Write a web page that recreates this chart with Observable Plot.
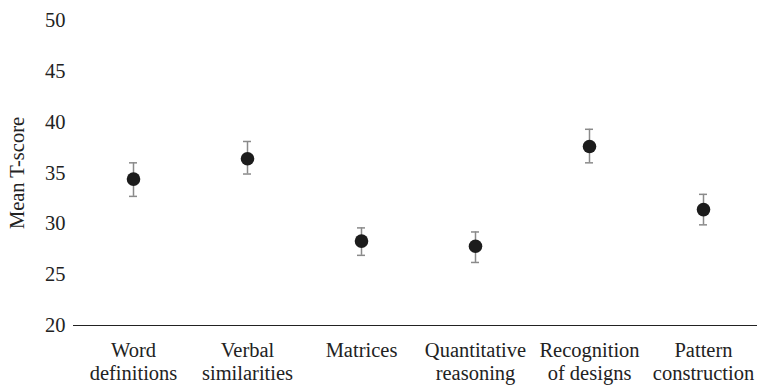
<!DOCTYPE html>
<html>
<head>
<meta charset="utf-8">
<script src="https://cdn.jsdelivr.net/npm/d3@7"></script>
<script src="https://cdn.jsdelivr.net/npm/@observablehq/plot@0.6"></script>
<style>
  html, body { margin: 0; padding: 0; background: #fff; }
  #chart svg { display: block; }
  #chart svg text { font-family: 'Liberation Serif', 'Times New Roman', serif; }
</style>
</head>
<body>
<div id="chart"></div>
<script>
const categories = ["Word\ndefinitions", "Verbal\nsimilarities", "Matrices", "Quantitative\nreasoning", "Recognition\nof designs", "Pattern\nconstruction"];
const means = [34.4, 36.4, 28.3, 27.8, 37.6, 31.4];
const lower = [32.7, 34.9, 26.9, 26.2, 36.0, 29.9];
const upper = [36.0, 38.1, 29.6, 29.2, 39.3, 32.9];
const yTicks = [20, 25, 30, 35, 40, 45, 50];

const data = categories.map((c, i) => ({cat: c, mean: means[i], lo: lower[i], hi: upper[i]}));
const serif = "'Liberation Serif', 'Times New Roman', serif";

const chart = Plot.plot({
  width: 757,
  height: 389,
  marginLeft: 73,
  marginRight: 0,
  marginTop: 20,
  marginBottom: 64,
  style: {fontFamily: serif, fontSize: "20.5px", color: "#222", background: "#fff"},
  x: {domain: categories, type: "band", paddingInner: 0.93, paddingOuter: 0.444, align: 0.53},
  y: {domain: [20, 50]},
  marks: [
    Plot.axisY({ticks: yTicks, tickSize: 0, tickPadding: 8, fontSize: 20.5, fontFamily: serif, fontVariant: "normal", label: "Mean T-score", labelAnchor: "center", labelArrow: "none", labelOffset: 64}),
    Plot.axisX({tickSize: 0, tickPadding: 14.5, fontSize: 20.5, fontFamily: serif, lineHeight: 1.15, label: null}),
    Plot.ruleY([20], {stroke: "#222", strokeWidth: 1.2}),
    Plot.ruleX(data, {x: "cat", y1: "lo", y2: "hi", stroke: "#8a8a8a", strokeWidth: 1.5}),
    Plot.tickY(data, {x: "cat", y: "lo", stroke: "#8a8a8a", strokeWidth: 1.5}),
    Plot.tickY(data, {x: "cat", y: "hi", stroke: "#8a8a8a", strokeWidth: 1.5}),
    Plot.dot(data, {x: "cat", y: "mean", r: 6.8, fill: "#1c1c1c", stroke: "none"})
  ]
});
document.getElementById("chart").appendChild(chart);
</script>
</body>
</html>
